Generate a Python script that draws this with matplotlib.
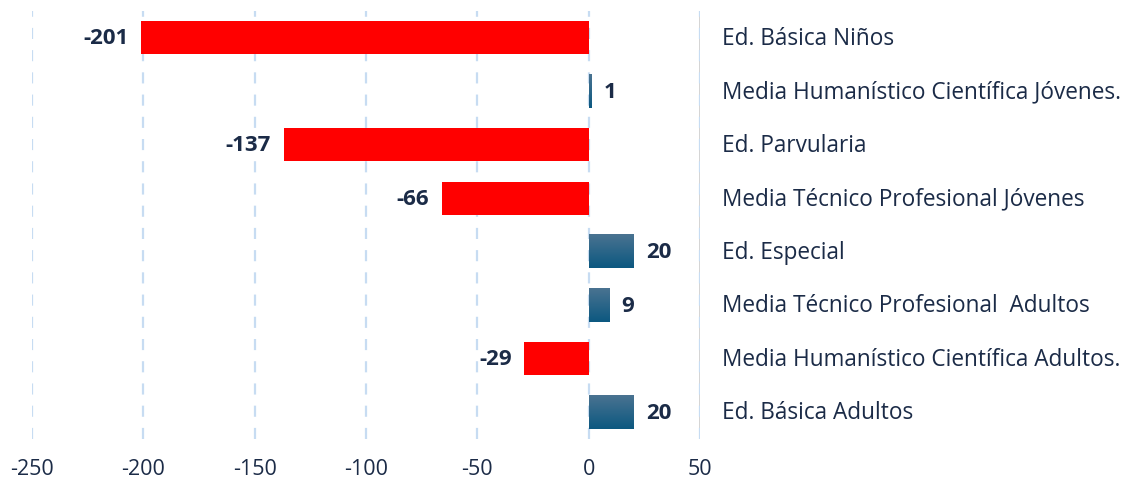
import numpy as np
import matplotlib.pyplot as plt
from matplotlib.colors import LinearSegmentedColormap

categorias = ['Ed. Básica Niños',
              'Media Humanístico Científica Jóvenes.',
              'Ed. Parvularia',
              'Media Técnico Profesional Jóvenes',
              'Ed. Especial',
              'Media Técnico Profesional  Adultos',
              'Media Humanístico Científica Adultos.',
              'Ed. Básica Adultos']
valores = [-201, 1, -137, -66, 20, 9, -29, 20]
ticks_x = [-250, -200, -150, -100, -50, 0, 50]

texto = '#1b2b47'
plt.rcParams['font.family'] = ['Open Sans', 'DejaVu Sans']
plt.rcParams['axes.unicode_minus'] = False

fig = plt.figure(figsize=(11.24, 4.81), dpi=100)
ax = fig.add_axes([32 / 1124, 41 / 481, 668 / 1124, 428 / 481])

y = np.arange(len(categorias))
alto = 0.62
colores = ['#ff0000' if v < 0 else '#15628a' for v in valores]
barras = ax.barh(y, valores, height=alto, color=colores, zorder=3)

# degradado en las barras positivas (claro arriba, oscuro abajo)
cmap = LinearSegmentedColormap.from_list('azul', ['#4a7391', '#0c5880'])
grad = np.linspace(0, 1, 100).reshape(-1, 1)
for b, v in zip(barras, valores):
    if v > 0:
        x0, y0 = b.get_x(), b.get_y()
        ax.imshow(grad, cmap=cmap, aspect='auto', zorder=4,
                  extent=[x0, x0 + b.get_width(), y0 + b.get_height(), y0],
                  origin='upper')

for yi, v in zip(y, valores):
    if v < 0:
        ax.annotate(str(v), (v, yi), xytext=(-9, 0), textcoords='offset points',
                    ha='right', va='center', fontsize=16, fontweight='bold', color=texto)
    else:
        ax.annotate(str(v), (v, yi), xytext=(9, 0), textcoords='offset points',
                    ha='left', va='center', fontsize=16, fontweight='bold', color=texto)

for yi, c in zip(y, categorias):
    ax.text(60, yi, c, ha='left', va='center', fontsize=16.3, color=texto, clip_on=False)

ax.set_xlim(-250, 50)
ax.set_ylim(len(categorias) - 0.5, -0.5)
ax.set_xticks(ticks_x)
ax.set_yticks([])
ax.tick_params(axis='x', length=0, pad=14, labelsize=15.5, labelcolor=texto)
ax.grid(axis='x', color='#c7dcf2', linestyle=(0, (5, 5)), linewidth=1.6, zorder=0)
ax.axvline(50, color='#d0d0d0', linewidth=2, zorder=1)
for s in ax.spines.values():
    s.set_visible(False)

plt.savefig('out.png', dpi=100)
